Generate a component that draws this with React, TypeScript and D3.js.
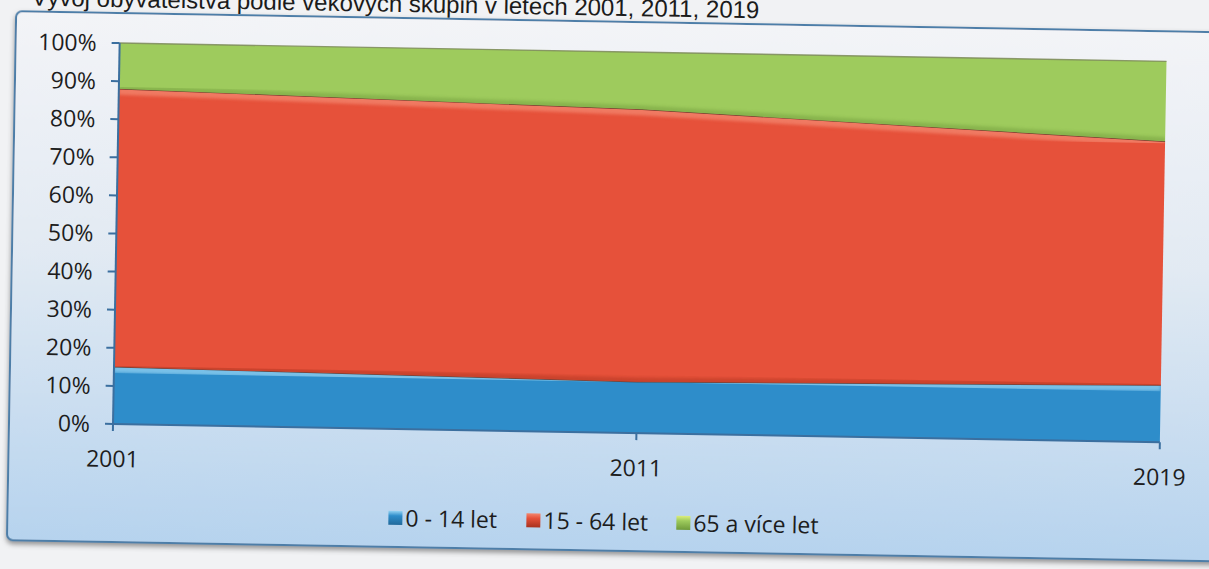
import React from 'react';
import * as d3 from 'd3';

const years = ['2001', '2011', '2019'];
const youth = [15, 13.5, 15];
const working = [73, 71.5, 64];
const senior = [12, 15, 21];
const seriesNames = ['0 - 14 let', '15 - 64 let', '65 a více let'];
const yTicks = [0, 10, 20, 30, 40, 50, 60, 70, 80, 90, 100];
const title = 'Vývoj obyvatelstva podle věkových skupin v letech 2001, 2011, 2019';

const W = 1209;
const H = 569;
const margin = { left: 113, top: 43 };
const plotW = 1047;
const plotH = 381;

const palette = [
  { base: '#2e8dca', light: '#93d2f2', dark: '#22699a' },
  { base: '#e6513a', light: '#f3876f', dark: '#a8321f' },
  { base: '#9ecb5d', light: '#dced7c', dark: '#6e9a3a' },
];

const FONT = '"Open Sans", "DejaVu Sans", sans-serif';

export default function App() {
  const rows = years.map((y, i) => ({ year: y, a: youth[i], b: working[i], c: senior[i] }));
  const stack = d3.stack<any>().keys(['a', 'b', 'c']);
  const layers = stack(rows);

  const x = d3.scalePoint<string>().domain(years).range([0, plotW]).padding(0);
  const y = d3.scaleLinear().domain([0, 100]).range([plotH, 0]);

  const area = d3
    .area<any>()
    .x((d) => x(d.data.year) as number)
    .y0((d) => y(d[0]))
    .y1((d) => y(d[1]));
  const topLine = d3
    .line<any>()
    .x((d) => x(d.data.year) as number)
    .y((d) => y(d[1]));
  const bottomLine = d3
    .line<any>()
    .x((d) => x(d.data.year) as number)
    .y((d) => y(d[0]));

  const axisColor = '#3b6f9f';
  const legendX = 390;
  const legendOffsets = [0, 138, 288];

  return (
    <svg
      width={W}
      height={H}
      style={{ position: 'absolute', left: 0, top: 0, background: '#f1f2f4' }}
    >
      <defs>
        <linearGradient id="frameFill" x1="0" y1="0" x2="0" y2="1">
          <stop offset="0" stopColor="#f3f4f7" />
          <stop offset="0.45" stopColor="#e2eaf3" />
          <stop offset="1" stopColor="#b6d3ee" />
        </linearGradient>
        <filter id="shadow" x="-5%" y="-5%" width="110%" height="115%">
          <feDropShadow dx="0" dy="3" stdDeviation="2.5" floodColor="#555" floodOpacity="0.6" />
        </filter>
        <filter id="soft" x="-5%" y="-5%" width="110%" height="110%">
          <feGaussianBlur stdDeviation="1.6" />
        </filter>
        {layers.map((l, i) => (
          <clipPath id={`clip${i}`} key={i}>
            <path d={area(l) || ''} />
          </clipPath>
        ))}
        {palette.map((p, i) => (
          <linearGradient id={`sw${i}`} key={i} x1="0" y1="0" x2="0" y2="1">
            <stop offset="0" stopColor={p.light} />
            <stop offset="0.35" stopColor={p.base} />
            <stop offset="1" stopColor={p.dark} />
          </linearGradient>
        ))}
      </defs>

      <g transform={`rotate(1, ${margin.left}, ${margin.top + plotH})`}>
        {/* title, partly cut off by the scan */}
        <text
          x={752}
          y={7}
          textAnchor="end"
          fontFamily='"Liberation Sans", Arial, sans-serif'
          fontSize={24}
          fill="#1b1b1b"
        >
          {title}
        </text>

        {/* chart frame */}
        <rect
          x={9}
          y={13}
          width={1220}
          height={529}
          rx={6}
          fill="url(#frameFill)"
          stroke="#4d7ea8"
          strokeWidth={2}
          filter="url(#shadow)"
        />

        <g transform={`translate(${margin.left},${margin.top})`}>
          {layers.map((l, i) => (
            <g key={i}>
              <path d={area(l) || ''} fill={palette[i].base} />
              <g clipPath={`url(#clip${i})`}>
                <path
                  d={topLine(l) || ''}
                  fill="none"
                  stroke={palette[i].light}
                  strokeWidth={12}
                  opacity={0.75}
                  filter="url(#soft)"
                />
                <path
                  d={bottomLine(l) || ''}
                  fill="none"
                  stroke={palette[i].dark}
                  strokeWidth={8}
                  opacity={0.45}
                  filter="url(#soft)"
                />
                <line
                  x1={plotW}
                  x2={plotW}
                  y1={0}
                  y2={plotH}
                  stroke={palette[i].dark}
                  strokeWidth={8}
                  opacity={0.5}
                  filter="url(#soft)"
                />
              </g>
              <path
                d={topLine(l) || ''}
                fill="none"
                stroke={i === 2 ? '#7d8a5a' : '#5a2f22'}
                strokeWidth={1.4}
                opacity={0.85}
              />
            </g>
          ))}

          {/* y axis */}
          <line x1={0} x2={0} y1={0} y2={plotH} stroke={axisColor} strokeWidth={2} />
          {yTicks.map((t) => (
            <g key={t} transform={`translate(0,${y(t)})`}>
              <line x1={-8} x2={0} stroke={axisColor} strokeWidth={2} />
              <text
                x={-23}
                dy="0.36em"
                textAnchor="end"
                fontFamily={FONT}
                fontSize={23}
                fill="#1d1d1d"
              >
                {t}%
              </text>
            </g>
          ))}

          {/* x axis */}
          <line x1={0} x2={plotW} y1={plotH} y2={plotH} stroke={axisColor} strokeWidth={2} />
          {years.map((yr) => (
            <g key={yr} transform={`translate(${x(yr)},${plotH})`}>
              <line y1={0} y2={7} stroke={axisColor} strokeWidth={2} />
              <text
                y={43}
                textAnchor="middle"
                fontFamily={FONT}
                fontSize={23}
                fill="#1d1d1d"
              >
                {yr}
              </text>
            </g>
          ))}
        </g>

        {/* legend */}
        <g transform={`translate(${legendX},513)`}>
          {seriesNames.map((name, i) => (
            <g key={name} transform={`translate(${legendOffsets[i]},0)`}>
              <rect x={0} y={-7} width={14} height={14} fill={`url(#sw${i})`} />
              <text
                x={17}
                dy="0.36em"
                fontFamily={FONT}
                fontSize={23}
                fill="#1d1d1d"
              >
                {name}
              </text>
            </g>
          ))}
        </g>
      </g>
    </svg>
  );
}
